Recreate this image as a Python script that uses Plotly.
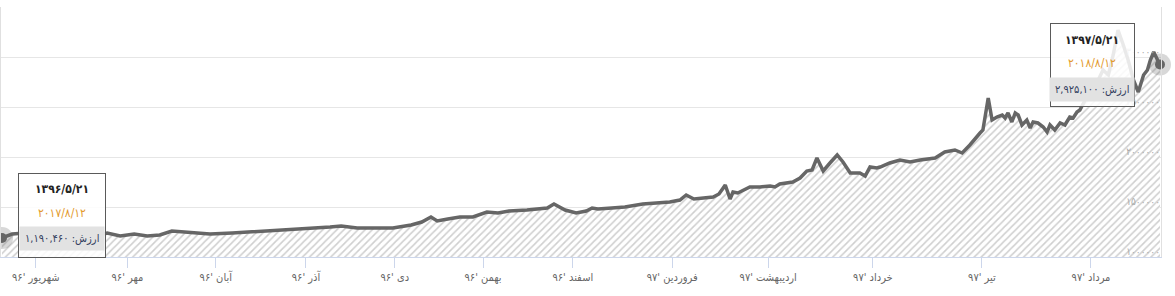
import plotly.graph_objects as go

# trading-day index (0 = 1396/5/21, 240 = 1397/5/21) and value (millions of rials)
days = [0, 2.1, 4.8, 7.9, 12.0, 16.2, 19.3, 21.8, 24.5, 27.4, 30.1, 32.7, 35.2, 38.3,
        43.1, 47.7, 51.4, 55.1, 59.7, 64.2, 68.0, 70.3, 73.6, 77.3, 81.0, 84.8, 87.0,
        88.9, 90.2, 92.4, 94.9, 97.6, 100.5, 102.8, 105.1, 108.8, 113.0, 114.4, 116.7,
        119.0, 121.1, 122.3, 123.5, 126.4, 129.1, 132.8, 136.0, 138.4, 140.5, 141.8,
        143.4, 145.7, 147.4, 148.6, 149.9, 150.9, 151.5, 152.5, 155.0, 157.1, 159.2,
        160.2, 161.2, 163.9, 165.4, 166.8, 167.9, 168.9, 170.2, 171.6, 173.1, 174.3,
        175.8, 177.8, 178.9, 179.9, 181.3, 182.0, 184.0, 186.1, 188.2, 190.3, 193.4,
        195.4, 197.5, 199.0, 200.6, 202.7, 203.3, 204.4, 205.2, 206.2, 207.3, 207.9,
        208.5, 209.3, 210.0, 210.6, 211.4, 212.4, 213.1, 213.7, 214.7, 215.8, 216.6,
        217.2, 218.2, 219.3, 220.3, 221.3, 222.0, 222.8, 223.4, 224.5, 225.9, 227.2,
        228.2, 229.3, 230.3, 231.3, 232.4, 233.4, 234.5, 235.5, 236.6, 237.4, 238.0,
        238.7, 239.5, 240]
values_m = [1.19046, 1.23, 1.24, 1.22, 1.21, 1.22, 1.21, 1.24, 1.21, 1.23, 1.21, 1.22,
            1.26, 1.25, 1.23, 1.24, 1.25, 1.26, 1.27, 1.29, 1.30, 1.31, 1.29, 1.29, 1.29,
            1.32, 1.35, 1.40, 1.36, 1.38, 1.40, 1.40, 1.45, 1.44, 1.46, 1.47, 1.49, 1.53,
            1.47, 1.44, 1.46, 1.49, 1.48, 1.49, 1.50, 1.53, 1.54, 1.55, 1.57, 1.62, 1.58,
            1.59, 1.60, 1.63, 1.72, 1.58, 1.65, 1.64, 1.70, 1.70, 1.71, 1.70, 1.73, 1.75,
            1.79, 1.86, 1.87, 1.99, 1.86, 1.94, 2.02, 1.95, 1.84, 1.84, 1.81, 1.90, 1.89,
            1.90, 1.94, 1.97, 1.95, 1.97, 1.99, 2.05, 2.07, 2.04, 2.12, 2.24, 2.27, 2.59,
            2.37, 2.40, 2.42, 2.39, 2.44, 2.35, 2.44, 2.42, 2.32, 2.37, 2.29, 2.35, 2.34,
            2.30, 2.25, 2.32, 2.27, 2.34, 2.32, 2.40, 2.39, 2.45, 2.47, 2.57, 2.67, 2.77,
            2.87, 2.82, 3.02, 3.27, 3.12, 2.97, 2.77, 2.65, 2.82, 2.87, 2.97, 3.05, 2.97,
            2.9251]
values = [v * 1e6 for v in values_m]

month_ticks = [7, 26, 44.3, 63, 81.4, 99.7, 118.3, 138.9, 158.8, 180.5, 203.1, 225.7]
month_labels = ["شهریور '۹۶", "مهر '۹۶", "آبان '۹۶", "آذر '۹۶", "دی '۹۶", "بهمن '۹۶",
                "اسفند '۹۶", "فروردین '۹۷", "اردیبهشت '۹۷", "خرداد '۹۷", "تیر '۹۷", "مرداد '۹۷"]
y_ticks = [1.0e6, 1.5e6, 2.0e6, 2.5e6, 3.0e6, 3.5e6]
y_labels = ["۱۰۰۰۰۰۰", "۱۵۰۰۰۰۰", "۲۰۰۰۰۰۰", "۲۵۰۰۰۰۰", "۳۰۰۰۰۰۰", ""]

tip_start = ["۱۳۹۶/۵/۲۱", "۲۰۱۷/۸/۱۲", "ارزش: ۱,۱۹۰,۴۶۰"]
tip_end = ["۱۳۹۷/۵/۲۱", "۲۰۱۸/۸/۱۲", "ارزش: ۲,۹۲۵,۱۰۰"]

FONT = "'DejaVu Sans Condensed', 'DejaVu Sans', sans-serif"

fig = go.Figure()
fig.add_trace(go.Scatter(
    x=days, y=values, mode="lines",
    line=dict(color="#666666", width=3.5),
    fill="tozeroy", fillcolor="rgba(0,0,0,0)",
    fillpattern=dict(shape="/", fgcolor="#a0a0a0", bgcolor="white", size=5, solidity=0.32),
    hoverinfo="skip", showlegend=False,
))
# hover halo + dot at first and last point
ends_x = [days[0], days[-1]]
ends_y = [values[0], values[-1]]
fig.add_trace(go.Scatter(x=ends_x, y=ends_y, mode="markers",
                         marker=dict(size=22, color="rgba(100,100,100,0.25)"),
                         cliponaxis=False, hoverinfo="skip", showlegend=False))
fig.add_trace(go.Scatter(x=ends_x, y=ends_y, mode="markers",
                         marker=dict(size=10, color="#666666"),
                         cliponaxis=False, hoverinfo="skip", showlegend=False))

def tooltip(px, py, lines, dx, dy, w, h, lines_dy):
    anns = []
    anns.append(dict(x=px, y=py, xref="x", yref="y", text=" ", showarrow=False,
                     xshift=dx, yshift=dy, width=w, height=h, borderpad=0,
                     bgcolor="rgba(255,255,255,0.86)", bordercolor="#5a5a5a", borderwidth=1))
    anns.append(dict(x=px, y=py, xref="x", yref="y", text="<b>" + lines[0] + "</b>",
                     showarrow=False, xshift=dx, yshift=dy + lines_dy[0],
                     font=dict(family=FONT, size=12, color="#222")))
    anns.append(dict(x=px, y=py, xref="x", yref="y", text=lines[1],
                     showarrow=False, xshift=dx, yshift=dy + lines_dy[1],
                     font=dict(family=FONT, size=12, color="#e39a2d")))
    anns.append(dict(x=px, y=py, xref="x", yref="y", text=lines[2],
                     showarrow=False, xshift=dx, yshift=dy + lines_dy[2],
                     bgcolor="#e2e2e2", borderpad=5,
                     font=dict(family=FONT, size=11, color="#33405e")))
    return anns

annotations = []
annotations += tooltip(days[0], values[0], tip_start, 60, 22.5, 86, 83, [26, 2.5, -23.5])
annotations += tooltip(days[-1], values[-1], tip_end, -67.5, -0.5, 83, 82, [25, 2, -25])

fig.update_layout(
    width=1175, height=296,
    margin=dict(l=1, r=14, t=7, b=39),
    paper_bgcolor="white", plot_bgcolor="white",
    font=dict(family=FONT, size=11, color="#666666"),
    annotations=annotations,
    xaxis=dict(range=[-0.21, 240.21], tickvals=month_ticks, ticktext=month_labels,
               showgrid=False, zeroline=False, showline=True, linecolor="#ccd6eb",
               ticks="outside", ticklen=10, tickcolor="#ccd6eb",
               tickfont=dict(size=11, color="#666666")),
    yaxis=dict(range=[1.0e6, 3.5e6], tickvals=y_ticks, ticktext=y_labels,
               side="right", ticklabelposition="inside", ticklabelshift=-6,
               showgrid=True, gridcolor="#e6e6e6", zeroline=False,
               showline=True, mirror=True, linecolor="#e0e0e0",
               tickfont=dict(size=10, color="#aaaaaa")),
)

fig.write_html("out.html")
